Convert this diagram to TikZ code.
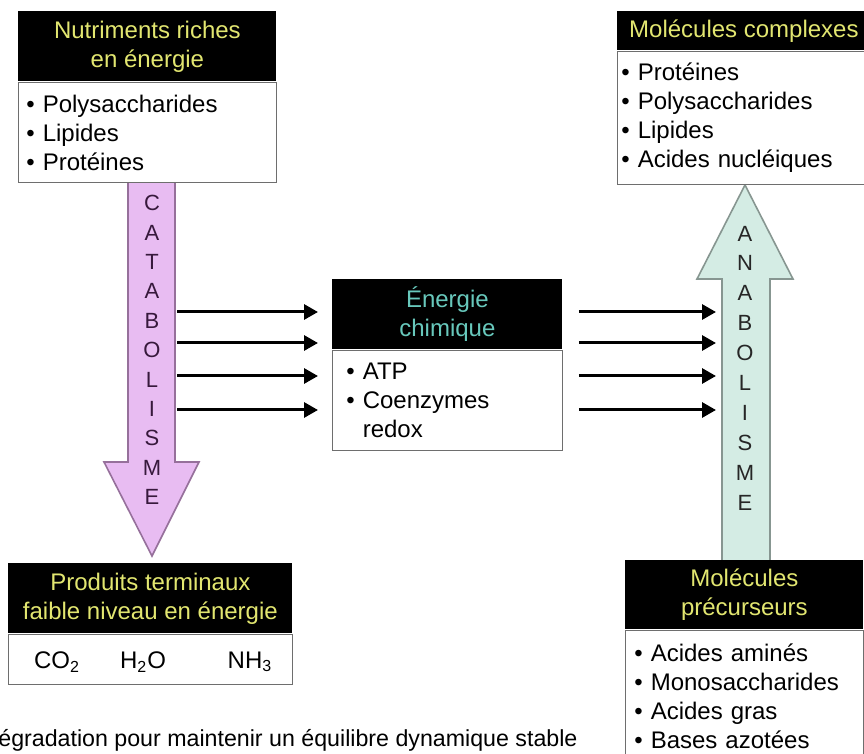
\documentclass[tikz,border=0pt]{standalone}
\usepackage{fontspec}
\setmainfont{Liberation Sans}
\usetikzlibrary{arrows.meta}

\definecolor{titleyellow}{RGB}{226,230,112}
\definecolor{titleteal}{RGB}{104,200,188}
\definecolor{catafill}{RGB}{232,188,242}
\definecolor{cataline}{RGB}{150,112,155}
\definecolor{anafill}{RGB}{212,236,228}
\definecolor{analine}{RGB}{135,150,145}
\definecolor{boxline}{RGB}{110,110,110}
\definecolor{letterpurple}{RGB}{55,25,60}

\tikzset{
  titlebox/.style={fill=black, text=titleyellow, align=center, inner sep=0pt,
    font=\fontsize{12}{14.5}\selectfont},
  listbox/.style={draw=boxline, line width=0.8pt, fill=white, align=left,
    inner ysep=0pt, font=\fontsize{12}{14.5}\selectfont},
  flow/.style={line width=1.5pt, -{Triangle[length=7pt,width=7.5pt]}},
  letters/.style={align=center, inner sep=0pt}
}

\begin{document}
\begin{tikzpicture}[x=0.5pt,y=-0.5pt]
\useasboundingbox (0,0) rectangle (864,754);
% big arrows
\draw [fill=catafill, draw=cataline, line width=0.8pt]
  (128,181) -- (128,462) -- (104,462) -- (152,556) -- (199,462) -- (175,462) -- (175,181);
\draw [fill=anafill, draw=analine, line width=0.8pt]
  (722,562) -- (722,279) -- (697,279) -- (745,185) -- (793,279) -- (770,279) -- (770,562);
\coordinate (cataE) at (175,360);
\coordinate (anaW) at (722,360);
\node [letters, text=letterpurple, font=\fontsize{11}{14.7}\selectfont] (cataTxt) at (152,350)
  {C\\A\\T\\A\\B\\O\\L\\I\\S\\M\\E};
\node [letters, text=black!85, font=\fontsize{11}{14.95}\selectfont] (anaTxt) at (745,368)
  {A\\N\\A\\B\\O\\L\\I\\S\\M\\E};
% nutriments
\node [titlebox, anchor=north west, minimum width=129pt, minimum height=35pt] (nutT) at (18,11)
  {Nutriments riches\\en énergie};
\node [listbox, anchor=north, inner xsep=4pt, text width=121pt, minimum height=50pt] (nutL) at (nutT.south)
  {\textbullet\ Polysaccharides\\\textbullet\ Lipides\\\textbullet\ Protéines};
% molecules complexes
\node [titlebox, anchor=north west, minimum width=126.5pt, minimum height=19.5pt] (cpxT) at (617,11)
  {Molécules complexes};
\node [listbox, anchor=north, inner xsep=2pt, text width=122.5pt, minimum height=66.5pt] (cpxL) at (cpxT.south)
  {\textbullet\ Protéines\\\textbullet\ Polysaccharides\\\textbullet\ Lipides\\\textbullet\ Acides nucléiques};
% energie chimique
\node [titlebox, text=titleteal, anchor=north west, minimum width=115pt, minimum height=35pt] (nrjT) at (332,279)
  {Énergie\\chimique};
\node [listbox, anchor=north, inner xsep=7pt, text width=101pt, minimum height=50pt] (nrjL) at (nrjT.south)
  {\textbullet\ ATP\\\textbullet\ Coenzymes\\\phantom{\textbullet\ }redox};
% produits terminaux
\node [titlebox, anchor=north west, minimum width=142pt, minimum height=35pt] (endT) at (8,563)
  {Produits terminaux\\faible niveau en énergie};
\node [listbox, anchor=north, minimum width=142pt, minimum height=25pt] (endL) at (endT.south) {};
\node [font=\fontsize{12}{14.5}\selectfont] (co2) at (57,662) {CO\textsubscript{2}};
\node [font=\fontsize{12}{14.5}\selectfont] (h2o) at (143,662) {H\textsubscript{2}O};
\node [font=\fontsize{12}{14.5}\selectfont] (nh3) at (250,662) {NH\textsubscript{3}};
% precurseurs
\node [titlebox, anchor=north west, minimum width=119pt, minimum height=34.5pt] (preT) at (625,560)
  {Molécules\\précurseurs};
\node [listbox, anchor=north, inner xsep=4.5pt, text width=110pt, minimum height=65.5pt] (preL) at (preT.south)
  {\textbullet\ Acides aminés\\\textbullet\ Monosaccharides\\\textbullet\ Acides gras\\\textbullet\ Bases azotées};
% flows
\foreach \y in {312,343,376,410} {
  \draw [flow, shorten <=1pt, shorten >=7pt] (cataE |- 0,\y) -- (nrjT.west |- 0,\y);
  \draw [flow, shorten <=8pt, shorten >=3pt] (nrjT.east |- 0,\y) -- (anaW |- 0,\y);
}
\node [anchor=west, inner sep=0pt, font=\fontsize{11.6}{14}\selectfont] (note) at (-2,740)
  {égradation pour maintenir un équilibre dynamique stable};
\end{tikzpicture}
\end{document}
